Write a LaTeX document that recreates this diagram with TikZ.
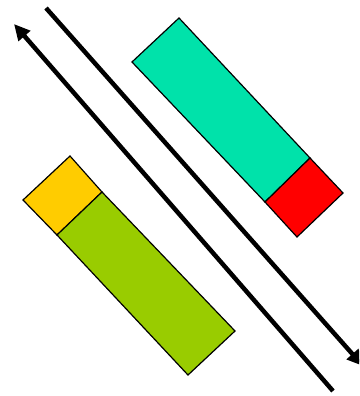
\documentclass[tikz,border=0pt]{standalone}
\usetikzlibrary{arrows.meta}
\definecolor{tealc}{RGB}{0,226,170}
\definecolor{redc}{RGB}{255,0,0}
\definecolor{yellowc}{RGB}{255,204,0}
\definecolor{greenc}{RGB}{153,204,0}
\begin{document}
\begin{tikzpicture}[x=1pt,y=-1pt,
  block/.style={draw=black,line width=1.2pt,line join=miter},
  bigarrow/.style={line width=4.5pt,-{Triangle[length=16pt,width=15pt]}}]
\useasboundingbox (0,0) rectangle (359,396);
\clip (0,0) rectangle (359,396);
\fill[white] (0,0) rectangle (359,396);
% teal + red bar
\filldraw[block,fill=tealc] (179,18) -- (132,62) -- (265,202) -- (310,158) -- cycle;
\filldraw[block,fill=redc] (265,202) -- (310,158) -- (343,193) -- (297,237) -- cycle;
% yellow + green bar
\filldraw[block,fill=yellowc] (70,156) -- (23,200) -- (57,235) -- (102,192) -- cycle;
\filldraw[block,fill=greenc] (102,192) -- (57,235) -- (188,375) -- (235,331) -- cycle;
% arrows
\coordinate (a1s) at (46,8);
\coordinate (a1e) at (363,366);
\coordinate (a2s) at (333,391);
\coordinate (a2e) at (14,24);
\draw[bigarrow] (a1s) -- (a1e);
\draw[bigarrow] (a2s) -- (a2e);
\end{tikzpicture}
\end{document}
